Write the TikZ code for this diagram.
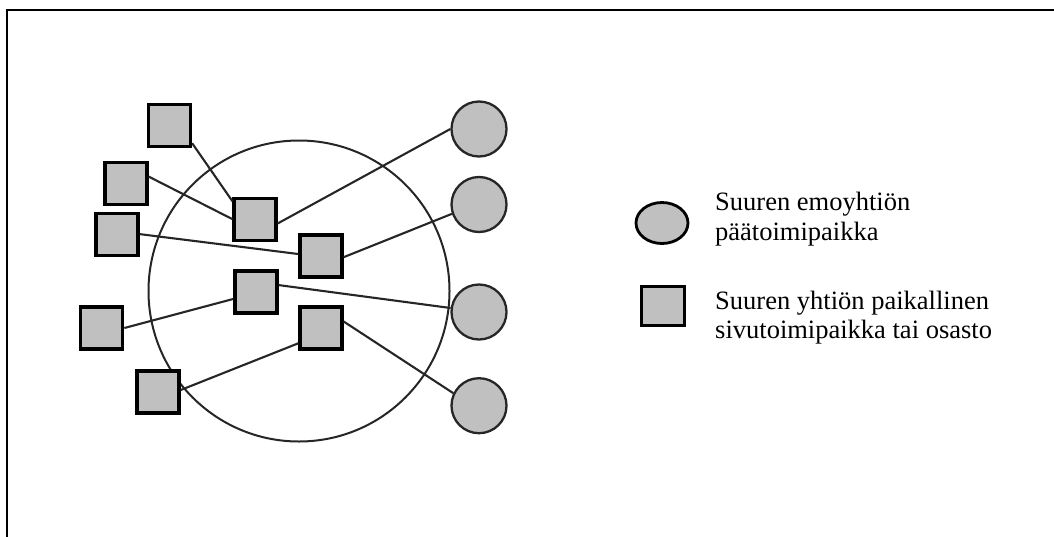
\documentclass[tikz,border=0pt]{standalone}
\usepackage{fontspec}
\setmainfont{Liberation Serif}
\usetikzlibrary{shapes.geometric}
\definecolor{boxgray}{HTML}{C0C0C0}
\definecolor{dark}{HTML}{262626}
\begin{document}
\begin{tikzpicture}[x=1pt,y=-1pt,
  sq/.style={draw=black,line width=3.3pt,fill=boxgray,rectangle,minimum size=42pt,inner sep=0pt},
  hq/.style={draw=dark,line width=2.3pt,fill=boxgray,circle,minimum size=55pt,inner sep=0pt},
  link/.style={draw=dark,line width=2.1pt},
  lbl/.style={font=\fontsize{26.5}{30}\selectfont,anchor=base west,inner sep=0pt}]
\useasboundingbox (0,0) rectangle (1054,536);
\draw[line width=2.8pt] (1060,10) -- (7,10) -- (7,545);
% market area
\node[draw=dark,line width=2pt,circle,minimum size=301pt,inner sep=0pt] (area) at (299,291) {};
% local branches
\node[sq] (s1) at (169.5,125.5) {};
\node[sq] (s2) at (126,183.5) {};
\node[sq] (s3) at (117,234.5) {};
\node[sq] (s4) at (255,219.5) {};
\node[sq] (s5) at (321,256) {};
\node[sq] (s6) at (256,292) {};
\node[sq] (s7) at (101.7,328) {};
\node[sq] (s8) at (158,392) {};
\node[sq] (s9) at (321,328) {};
% headquarters
\node[hq] (c1) at (479,129) {};
\node[hq] (c2) at (479,204.5) {};
\node[hq] (c3) at (479,312) {};
\node[hq] (c4) at (479,405.7) {};
% links
\draw[link] (s1.-38) -- (s4.141);
\draw[link] (s2.17) -- (s4.179);
\draw[link] (s3.1) -- (s5.175);
\draw[link] (s4.-10) -- (c1.180);
\draw[link] (s5.-3) -- (c2.-161);
\draw[link] (s6.17) -- (c3.172);
\draw[link] (s7.0) -- (s6.-163);
\draw[link] (s8.5) -- (s9.-146);
\draw[link] (s9.16) -- (c4.154);
% legend
\node[draw=black,line width=2.8pt,fill=boxgray,ellipse,minimum width=52pt,minimum height=41pt,inner sep=0pt] (lc) at (662,223) {};
\node[draw=black,line width=3.3pt,fill=boxgray,rectangle,minimum width=43pt,minimum height=39pt,inner sep=0pt] (ls) at (663,306) {};
\node[lbl] (t1) at (715,210) {Suuren emoyhtiön};
\node[lbl] (t2) at (715,240) {päätoimipaikka};
\node[lbl] (t3) at (715,309) {Suuren yhtiön paikallinen};
\node[lbl] (t4) at (715,338.5) {sivutoimipaikka tai osasto};
\end{tikzpicture}
\end{document}
